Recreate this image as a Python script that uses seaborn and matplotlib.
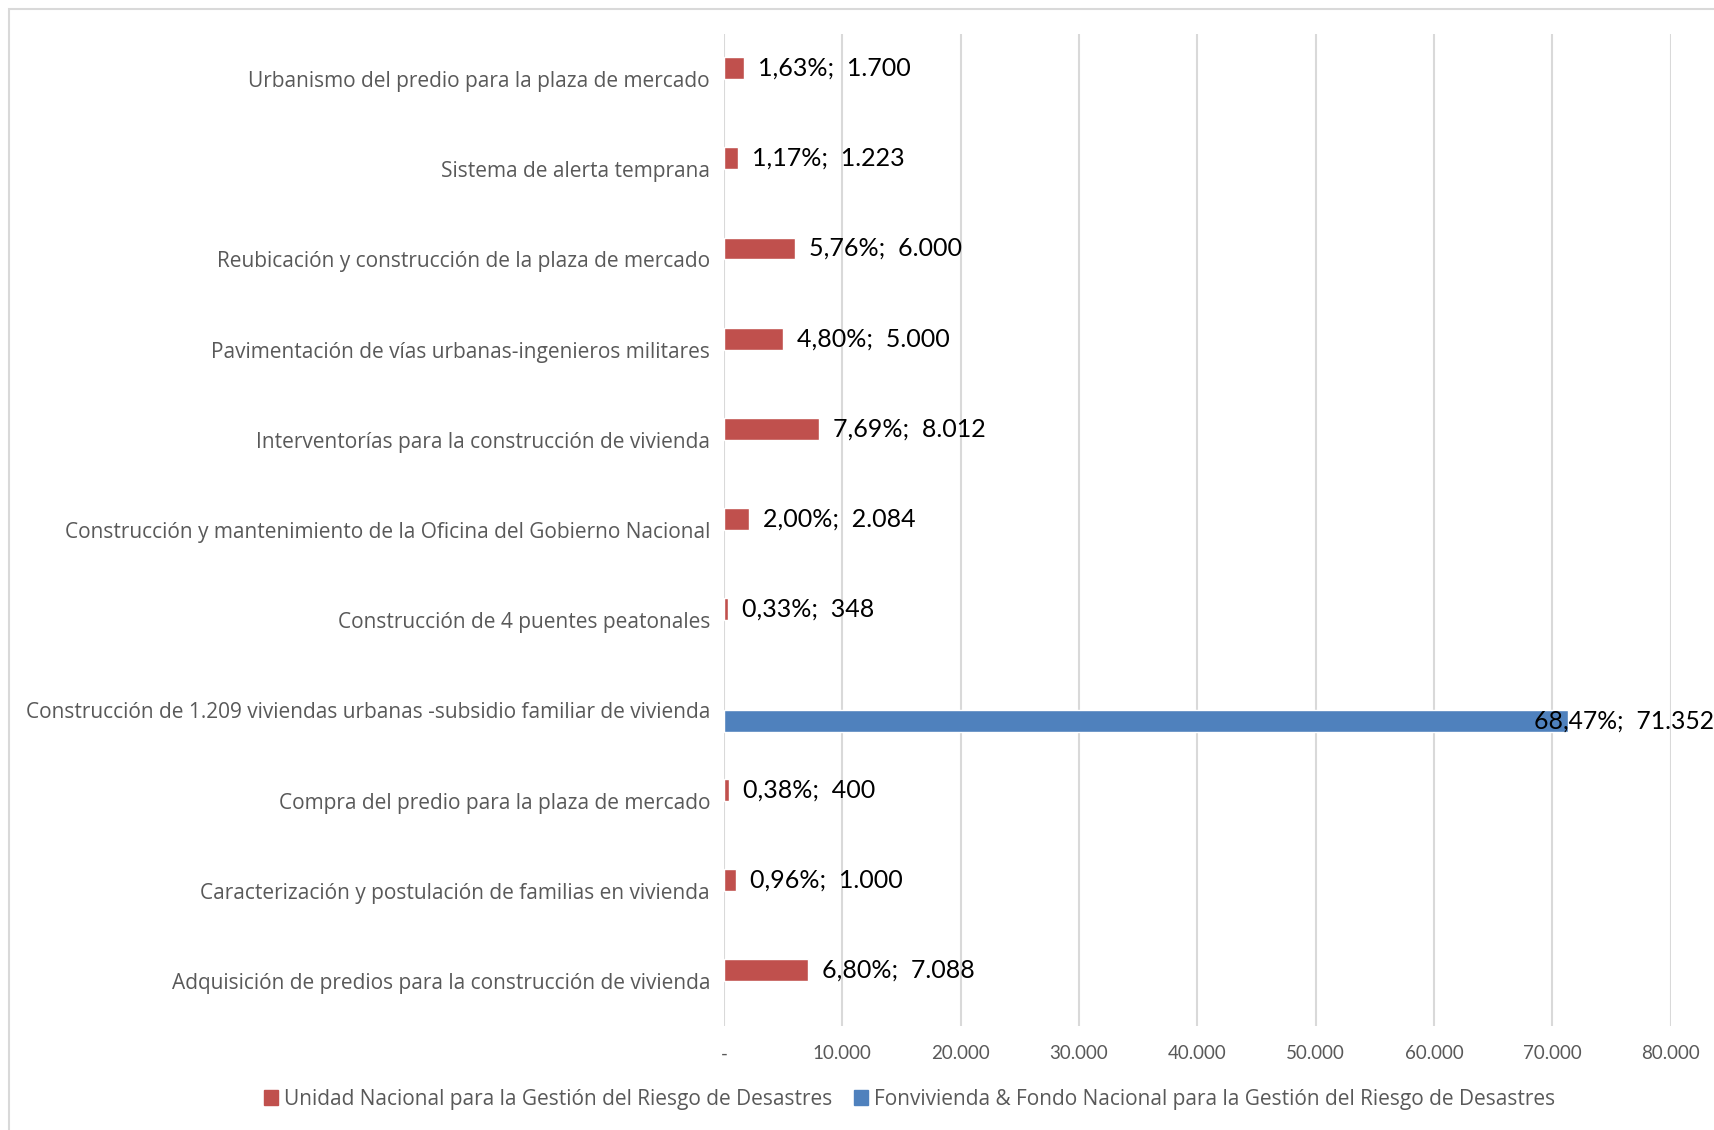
import matplotlib
matplotlib.use("Agg")
import matplotlib.pyplot as plt
import matplotlib.patches as mpatches
from matplotlib.ticker import FuncFormatter
import seaborn as sns
import pandas as pd

# Project lines, top to bottom
categories = [
    "Urbanismo del predio para la plaza de mercado",
    "Sistema de alerta temprana",
    "Reubicación y construcción de la plaza de mercado",
    "Pavimentación de vías urbanas-ingenieros militares",
    "Interventorías para la construcción de vivienda",
    "Construcción y mantenimiento de la Oficina del Gobierno Nacional",
    "Construcción de 4 puentes peatonales",
    "Construcción de 1.209 viviendas urbanas -subsidio familiar de vivienda",
    "Compra del predio para la plaza de mercado",
    "Caracterización y postulación de familias en vivienda",
    "Adquisición de predios para la construcción de vivienda",
]
# Amounts (millions of pesos) and share of the total
values = [1700, 1223, 6000, 5000, 8012, 2084, 348, 71352, 400, 1000, 7088]
shares = [1.63, 1.17, 5.76, 4.80, 7.69, 2.00, 0.33, 68.47, 0.38, 0.96, 6.80]

series_names = [
    "Unidad Nacional para la Gestión del Riesgo de Desastres",
    "Fonvivienda & Fondo Nacional para la Gestión del Riesgo de Desastres",
]
# Funding source for each line
sources = [0, 0, 0, 0, 0, 0, 0, 1, 0, 0, 0]
colors = ["#C0504D", "#4F81BD"]

df = pd.DataFrame({
    "Proyecto": categories,
    "Valor": values,
    "Fuente": [series_names[s] for s in sources],
})

sns.set_theme(style="white")
plt.rcParams["font.family"] = ["Lato", "DejaVu Sans"]
TXT = "#595959"
WIDE = ["Open Sans", "DejaVu Sans"]

fig = plt.figure(figsize=(17.14, 11.30), dpi=100)
ax = fig.add_axes([724 / 1714, 1 - 1026 / 1130, (1670.7 - 724) / 1714, (1026 - 34) / 1130])

sns.barplot(data=df, y="Proyecto", x="Valor", hue="Fuente", order=categories,
            hue_order=series_names, palette=colors, width=0.485, dodge=True,
            orient="h", errorbar=None, saturation=1, legend=False, ax=ax)

ax.set_xlim(0, 80000)
ax.set_ylim(10.5, -0.5)
ax.set_xticks(range(0, 80001, 10000))
ax.xaxis.set_major_formatter(FuncFormatter(
    lambda v, p: "-" if v == 0 else f"{int(v):,}".replace(",", ".")))
ax.grid(axis="x", color="#d9d9d9", linewidth=1.5)
ax.grid(axis="y", visible=False)
for s in ax.spines.values():
    s.set_visible(False)
ax.set_xlabel("")
ax.set_ylabel("")
ax.tick_params(axis="y", length=0, pad=10, labelcolor=TXT)
ax.tick_params(axis="x", length=0, pad=14, labelsize=13.5, labelcolor=TXT)
for lbl in ax.get_yticklabels():
    lbl.set_fontfamily(WIDE)
    lbl.set_fontsize(15)

# Data labels: "share%; amount"
offsets = [-0.121, 0.121]
for i, (v, sh, s) in enumerate(zip(values, shares, sources)):
    txt = f"{sh:.2f}".replace(".", ",") + "%;  " + f"{v:,}".replace(",", ".")
    y = i + offsets[s]
    if s == 1:
        ax.text(v - 2900, y, txt, ha="left", va="center", fontsize=17.8,
                color="black", clip_on=False)
    else:
        ax.annotate(txt, (v, y), xytext=(10, 0), textcoords="offset points",
                    ha="left", va="center", fontsize=18, color="black")

handles = [mpatches.Patch(color=c, label=n) for c, n in zip(colors, series_names)]
fig.legend(handles=handles, loc="center", bbox_to_anchor=(909.6 / 1714, 1 - 1099 / 1130),
           ncol=2, frameon=False, prop={"family": WIDE, "size": 15}, labelcolor=TXT,
           handlelength=0.7, handleheight=0.7, handletextpad=0.3, columnspacing=1.0)

# Chart border
fig.patches.append(mpatches.Rectangle((9 / 1714, -0.2), 1.5, 1 - 9 / 1130 + 0.2,
                                      transform=fig.transFigure, fill=False,
                                      edgecolor="#d9d9d9", linewidth=1.5))

fig.savefig("out.png", dpi=100)
